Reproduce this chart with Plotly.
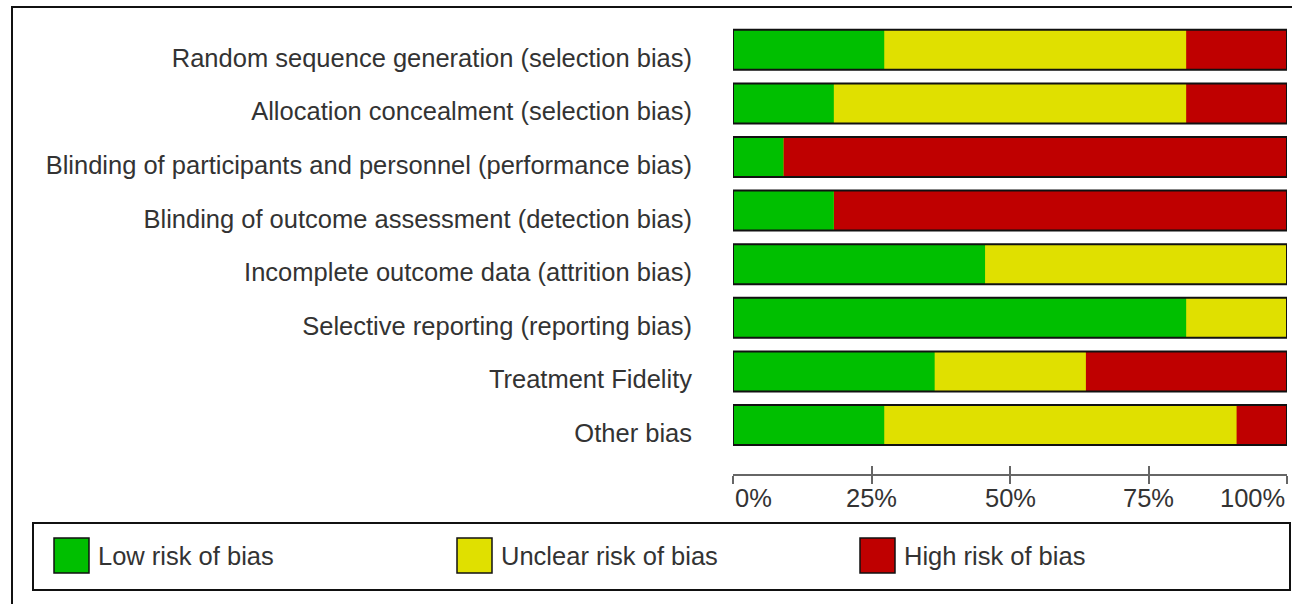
import plotly.graph_objects as go

# ---- data (percent of 11 studies) ----
domains = [
    "Random sequence generation (selection bias)",
    "Allocation concealment (selection bias)",
    "Blinding of participants and personnel (performance bias)",
    "Blinding of outcome assessment (detection bias)",
    "Incomplete outcome data (attrition bias)",
    "Selective reporting (reporting bias)",
    "Treatment Fidelity",
    "Other bias",
]
low_pct = [27.3, 18.2, 9.1, 18.2, 45.5, 81.8, 36.4, 27.3]
unclear_pct = [54.5, 63.6, 0.0, 0.0, 54.5, 18.2, 27.3, 63.6]
high_pct = [18.2, 18.2, 90.9, 81.8, 0.0, 0.0, 36.3, 9.1]

series_names = ["Low risk of bias", "Unclear risk of bias", "High risk of bias"]
series_colors = ["#00BF00", "#E0E000", "#BF0000"]
tick_vals = [0, 25, 50, 75, 100]
tick_text = ["0%", "25%", "50%", "75%", "100%"]

# ---- layout geometry (pixels) ----
FW, FH = 1292, 604
PL, PT, PR, PB = 733, 23, 1287, 474   # plot area
W = PR - PL
H = PB - PT


def px(x):
    return (x - PL) / W


def py(y):
    return (PB - y) / H


FONT = "Liberation Sans, Arial, sans-serif"
TXT = "#333333"
FS = 25.5

# overlay cumulative bars: high (full), unclear (low+unclear), low
cum_low = low_pct
cum_unclear = [a + b for a, b in zip(low_pct, unclear_pct)]
cum_high = [a + b + c for a, b, c in zip(low_pct, unclear_pct, high_pct)]

fig = go.Figure()
for vals, name, col in [
    (cum_high, series_names[2], series_colors[2]),
    (cum_unclear, series_names[1], series_colors[1]),
    (cum_low, series_names[0], series_colors[0]),
]:
    fig.add_trace(go.Bar(
        x=vals, y=domains, orientation="h", name=name,
        marker=dict(color=col, line=dict(width=0)),
        showlegend=False, hoverinfo="x+y+name",
    ))
# outline
fig.add_trace(go.Bar(
    x=cum_high, y=domains, orientation="h",
    marker=dict(color="rgba(0,0,0,0)", line=dict(color="#111111", width=2)),
    showlegend=False, hoverinfo="skip",
))
# invisible trace for the inside-ticks axis
fig.add_trace(go.Scatter(x=[0, 100], y=[domains[0], domains[0]], xaxis="x2",
                         mode="markers", marker=dict(opacity=0), showlegend=False,
                         hoverinfo="skip"))

shapes = []
annotations = []
# outer frame
shapes.append(dict(type="rect", xref="paper", yref="paper",
                   x0=px(12), x1=px(1310), y0=py(620), y1=py(7),
                   line=dict(color="#111111", width=2), layer="below"))
# legend box
shapes.append(dict(type="rect", xref="paper", yref="paper",
                   x0=px(33), x1=px(1290), y0=py(590), y1=py(523),
                   line=dict(color="#111111", width=2)))
leg_x = [54, 457, 860]
for i, (name, col) in enumerate(zip(series_names, series_colors)):
    x0 = leg_x[i]
    shapes.append(dict(type="rect", xref="paper", yref="paper",
                       x0=px(x0), x1=px(x0 + 35), y0=py(573), y1=py(538),
                       fillcolor=col, line=dict(color="#111111", width=1.5)))
    annotations.append(dict(xref="paper", yref="paper", x=px(x0 + 42), y=py(556),
                            xanchor="left", yanchor="middle", showarrow=False,
                            text=name, font=dict(family=FONT, size=FS, color=TXT)))
# x tick labels
for v, t in zip(tick_vals, tick_text):
    anchor = "left" if v == tick_vals[0] else ("right" if v == tick_vals[-1] else "center")
    annotations.append(dict(xref="x", yref="paper", x=v, y=py(498),
                            xanchor=anchor, yanchor="middle", showarrow=False,
                            text=t, font=dict(family=FONT, size=FS, color=TXT)))

fig.update_layout(
    width=FW, height=FH,
    margin=dict(l=PL, r=FW - PR, t=PT, b=FH - PB, pad=0),
    paper_bgcolor="white", plot_bgcolor="white",
    barmode="overlay", bargap=0.254,
    font=dict(family=FONT, size=FS, color=TXT),
    xaxis=dict(range=[0, 100], showgrid=False, zeroline=False,
               showline=True, linecolor="#666666", linewidth=2,
               ticks="outside", ticklen=8, tickwidth=2, tickcolor="#666666",
               tickvals=tick_vals, showticklabels=False, fixedrange=True),
    xaxis2=dict(range=[0, 100], overlaying="x", side="bottom", anchor="y",
                showgrid=False, zeroline=False, showline=False,
                ticks="inside", ticklen=8, tickwidth=2, tickcolor="#666666",
                tickvals=tick_vals, showticklabels=False, fixedrange=True),
    yaxis=dict(categoryorder="array", categoryarray=domains,
               range=[7.914, -0.5], showgrid=False, zeroline=False,
               showline=False, ticks="", ticklabelstandoff=40,
               ticklabelshift=-8,
               tickfont=dict(family=FONT, size=FS, color=TXT), fixedrange=True),
    shapes=shapes, annotations=annotations,
)

fig.write_html(
    "out.html",
    config={"displayModeBar": False},
    post_script=(
        "document.documentElement.style.margin='0';"
        "document.documentElement.style.overflow='hidden';"
        "document.body.style.margin='0';"
        "document.body.style.overflow='hidden';"
    ),
)
